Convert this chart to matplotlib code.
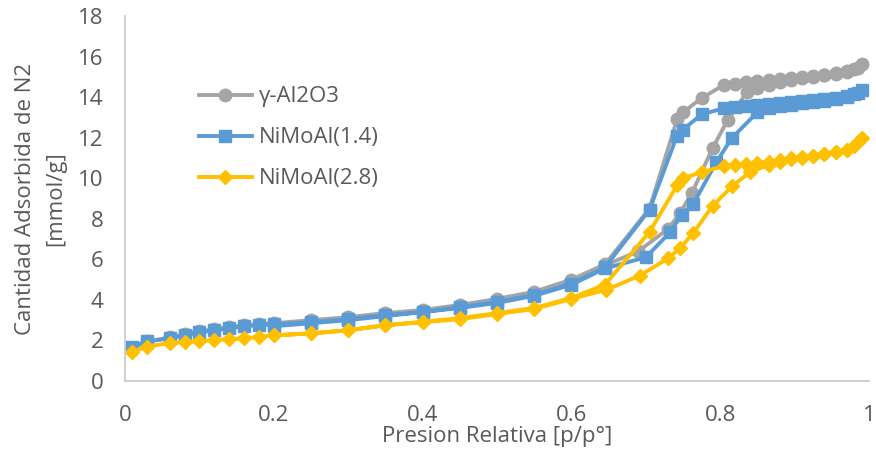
import matplotlib
matplotlib.use("Agg")
import matplotlib.pyplot as plt

# Adsorption branch (common relative pressures)
ads_x = [0.01, 0.03, 0.06, 0.08, 0.10, 0.12, 0.14, 0.16, 0.18, 0.20,
         0.25, 0.30, 0.35, 0.40, 0.45, 0.50, 0.55, 0.60,
         0.645, 0.705, 0.742, 0.75, 0.775, 0.805,
         0.82, 0.835, 0.85, 0.865, 0.88, 0.895, 0.91, 0.925, 0.94, 0.955, 0.97, 0.98, 0.99]

al2o3_ads = [1.65, 1.95, 2.15, 2.3, 2.45, 2.55, 2.65, 2.75, 2.8, 2.85,
             3.0, 3.15, 3.35, 3.5, 3.75, 4.05, 4.4, 5.0,
             5.75, 8.5, 12.9, 13.25, 13.95, 14.6,
             14.65, 14.75, 14.8, 14.85, 14.9, 14.95, 15.0, 15.05, 15.1, 15.15, 15.25, 15.4, 15.65]
nimo14_ads = [1.7, 1.95, 2.1, 2.25, 2.4, 2.5, 2.6, 2.7, 2.75, 2.8,
              2.9, 3.05, 3.25, 3.4, 3.65, 3.9, 4.25, 4.8,
              5.6, 8.45, 12.1, 12.4, 13.15, 13.45,
              13.5, 13.55, 13.6, 13.65, 13.7, 13.75, 13.8, 13.85, 13.9, 13.95, 14.05, 14.15, 14.35]
nimo28_ads = [1.45, 1.7, 1.87, 1.92, 1.97, 2.02, 2.07, 2.1, 2.18, 2.25,
              2.35, 2.5, 2.75, 2.92, 3.1, 3.35, 3.6, 4.1,
              4.75, 7.35, 9.65, 10.0, 10.3, 10.6,
              10.65, 10.7, 10.75, 10.8, 10.9, 11.0, 11.05, 11.1, 11.2, 11.3, 11.4, 11.6, 12.0]

# Desorption branches
al2o3_des_x = [0.985, 0.97, 0.955, 0.94, 0.925, 0.91, 0.895, 0.88, 0.865, 0.85, 0.836,
               0.81, 0.79, 0.762, 0.746, 0.73, 0.69, 0.645, 0.60, 0.55, 0.50, 0.45,
               0.40, 0.35, 0.30, 0.25, 0.20]
al2o3_des = [15.45, 15.3, 15.2, 15.1, 15.0, 14.95, 14.85, 14.75, 14.6, 14.45, 14.25,
             12.87, 11.5, 9.27, 8.28, 7.5, 6.4, 5.7, 4.95, 4.35, 4.0, 3.7,
             3.45, 3.3, 3.1, 2.95, 2.8]

nimo14_des_x = [0.985, 0.97, 0.955, 0.94, 0.925, 0.91, 0.895, 0.88, 0.865, 0.85,
                0.816, 0.795, 0.764, 0.748, 0.733, 0.70, 0.645, 0.60, 0.55, 0.50,
                0.45, 0.40, 0.35, 0.30, 0.25, 0.20]
nimo14_des = [14.2, 14.0, 13.9, 13.8, 13.75, 13.7, 13.6, 13.55, 13.45, 13.25,
              12.0, 10.8, 8.75, 8.2, 7.35, 6.1, 5.55, 4.75, 4.2, 3.85,
              3.6, 3.4, 3.2, 3.0, 2.85, 2.7]

nimo28_des_x = [0.985, 0.97, 0.955, 0.94, 0.925, 0.91, 0.895, 0.88, 0.865, 0.84,
                0.816, 0.79, 0.764, 0.746, 0.73, 0.692, 0.647, 0.60, 0.55, 0.50,
                0.45, 0.40, 0.35, 0.30, 0.25, 0.20]
nimo28_des = [11.8, 11.4, 11.3, 11.2, 11.1, 11.0, 10.95, 10.8, 10.65, 10.3,
              9.6, 8.65, 7.3, 6.55, 6.05, 5.2, 4.5, 4.05, 3.55, 3.3,
              3.05, 2.9, 2.75, 2.5, 2.35, 2.25]

labels = ["γ-Al2O3", "NiMoAl(1.4)", "NiMoAl(2.8)"]
x_ticks = [0, 0.2, 0.4, 0.6, 0.8, 1]
x_tick_labels = ["0", "0.2", "0.4", "0.6", "0.8", "1"]
y_ticks = [0, 2, 4, 6, 8, 10, 12, 14, 16, 18]

plt.rcParams['font.family'] = ['Open Sans', 'DejaVu Sans']

fig = plt.figure(figsize=(8.76, 4.5), dpi=100)
ax = fig.add_axes([125/876, 69/450, 744/876, 365/450])

series = [
    (ads_x, al2o3_ads, al2o3_des_x, al2o3_des, "#A5A5A5", "o", 9.0),
    (ads_x, nimo14_ads, nimo14_des_x, nimo14_des, "#5B9BD5", "s", 8.5),
    (ads_x, nimo28_ads, nimo28_des_x, nimo28_des, "#FFC000", "D", 7.5),
]
for (ax_x, ay, dx, dy, col, mk, ms), lab in zip(series, labels):
    ax.plot(list(ax_x) + list(dx), list(ay) + list(dy), color=col, lw=2.8,
            marker=mk, markersize=ms, label=lab, solid_joinstyle='round')

ax.set_xlim(0, 1)
ax.set_ylim(0, 18)
ax.set_xticks(x_ticks)
ax.set_xticklabels(x_tick_labels)
ax.set_yticks(y_ticks)
for s in ['top', 'right']:
    ax.spines[s].set_visible(False)
for s in ['left', 'bottom']:
    ax.spines[s].set_color('#C8C8C8')
    ax.spines[s].set_linewidth(1.2)
ax.tick_params(length=0, labelsize=16, colors='#595959')
ax.tick_params(axis='x', pad=17)
ax.tick_params(axis='y', pad=15.5)

ax.set_xlabel("Presion Relativa [p/p°]", fontsize=16, color='#595959', labelpad=0.5)
ax.set_ylabel("Cantidad Adsorbida de N2\n[mmol/g]", fontsize=16, color='#595959',
              labelpad=8.5, linespacing=1.55)

leg = ax.legend(loc='upper left', bbox_to_anchor=(0.078, 0.85), frameon=False,
                fontsize=16, handlelength=2.4, labelspacing=0.9,
                handletextpad=0.3, labelcolor='#595959', borderpad=0.2)

fig.savefig("out.png", dpi=100)
